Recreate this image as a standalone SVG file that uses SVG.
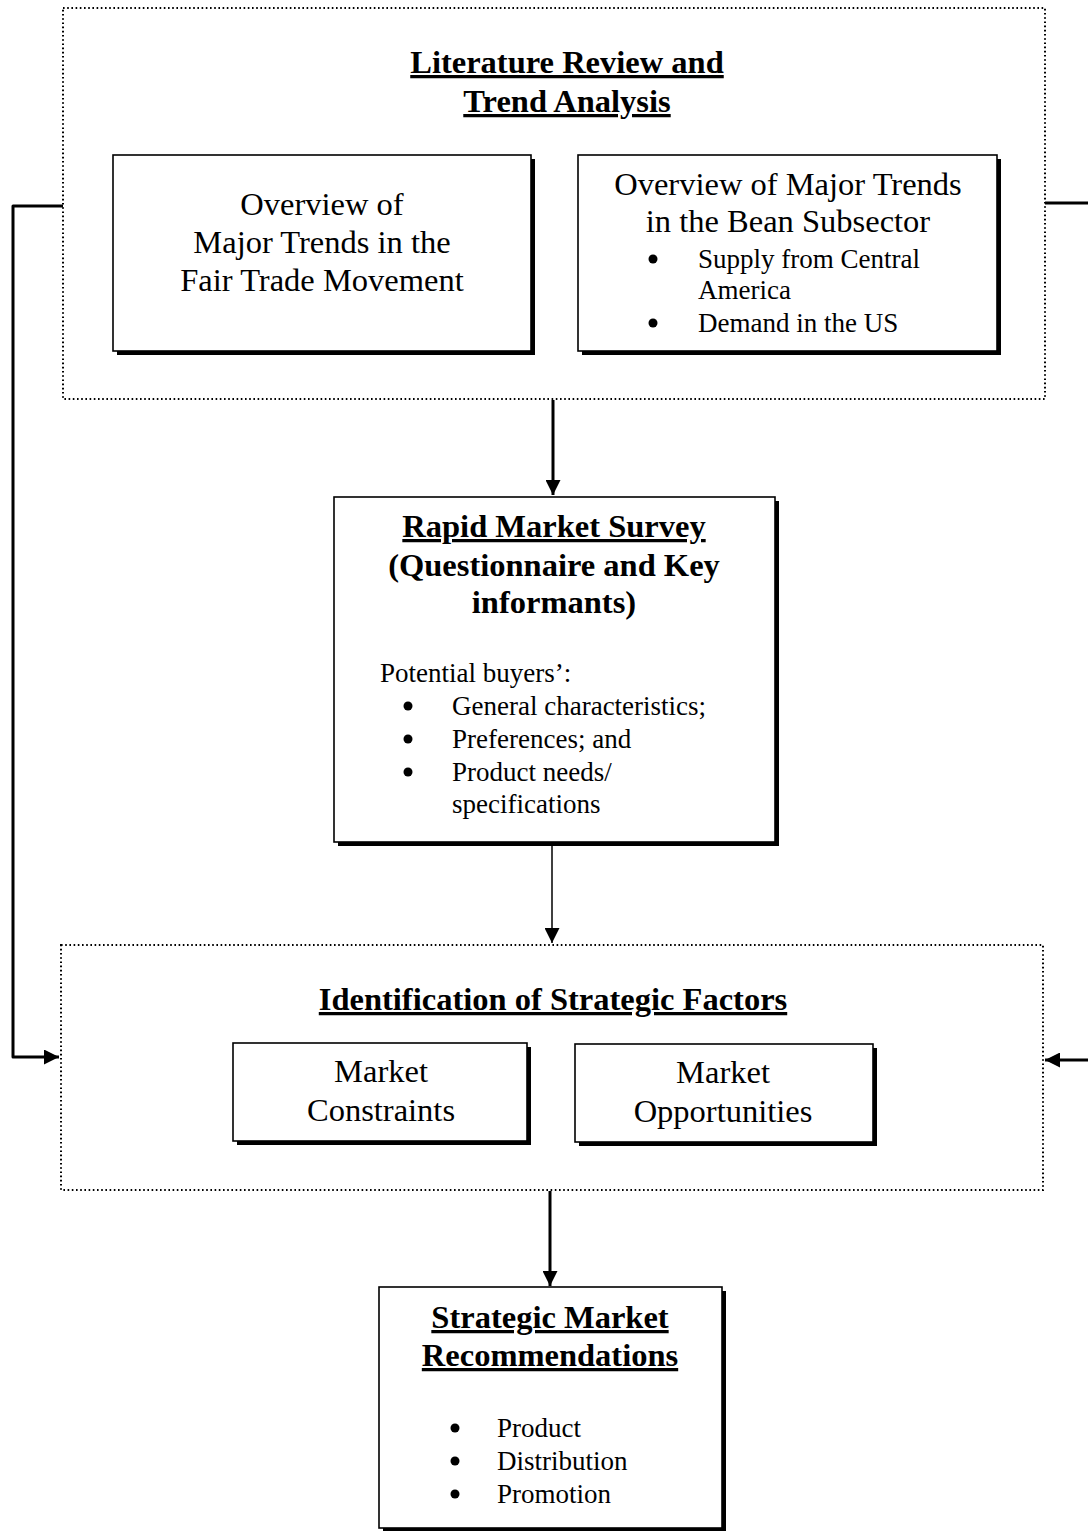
<svg xmlns="http://www.w3.org/2000/svg" width="1088" height="1531" viewBox="0 0 1088 1531">
  <style>
    text { font-family: "Liberation Serif", "Times New Roman", serif; fill: #000; }
    .h { font-weight: bold; font-size: 32.5px; text-anchor: middle; text-decoration: underline; }
    .hb { font-weight: bold; font-size: 32.5px; text-anchor: middle; }
    .t { font-size: 32.5px; text-anchor: middle; }
    .s { font-size: 27px; }
    .dot { fill: #000; }
    .frame { fill: none; stroke: #000; stroke-width: 2; stroke-dasharray: 1.6 2.6; }
    .shadow { fill: #000; }
    .box { fill: #fff; stroke: #000; stroke-width: 1.6; }
    .conn { fill: none; stroke: #000; stroke-width: 3; stroke-linejoin: round; }
  </style>
  <defs>
    <marker id="arrow" viewBox="0 0 10 10" refX="10" refY="5" markerWidth="5" markerHeight="5" markerUnits="strokeWidth" orient="auto">
      <path d="M0,0 L10,5 L0,10 z" fill="#000"/>
    </marker>
    <marker id="arrowSmall" viewBox="0 0 10 10" refX="10" refY="5" markerWidth="10" markerHeight="10" markerUnits="strokeWidth" orient="auto">
      <path d="M0,0 L10,5 L0,10 z" fill="#000"/>
    </marker>
  </defs>
  <rect width="1088" height="1531" fill="#fff"/>

  <!-- connectors -->
  <g id="connectors">
    <path class="conn" d="M63,206 H13 V1057 H59" marker-end="url(#arrow)"/>
    <path class="conn" d="M1045,203 H1088"/>
    <path class="conn" d="M1088,1060 H1045" marker-end="url(#arrow)"/>
    <path class="conn" d="M553,400 V495" marker-end="url(#arrow)"/>
    <path d="M552,844 V943" fill="none" stroke="#000" stroke-width="1.5" marker-end="url(#arrowSmall)"/>
    <path class="conn" d="M550,1191 V1286" marker-end="url(#arrow)"/>
  </g>

  <!-- literature review frame -->
  <g id="literature-review">
    <rect class="frame" x="63" y="8" width="982" height="391"/>
    <text class="h" x="567" y="73">Literature Review and</text>
    <text class="h" x="567" y="112">Trend Analysis</text>
  </g>

  <g id="fair-trade-trends">
    <rect class="shadow" x="117" y="159" width="418" height="196"/>
    <rect class="box" x="113" y="155" width="418" height="196"/>
    <text class="t" x="322" y="215">Overview of</text>
    <text class="t" x="322" y="253">Major Trends in the</text>
    <text class="t" x="322" y="291">Fair Trade Movement</text>
  </g>

  <g id="bean-subsector-trends">
    <rect class="shadow" x="582" y="159" width="419" height="196"/>
    <rect class="box" x="578" y="155" width="419" height="196"/>
    <text class="t" x="788" y="195">Overview of Major Trends</text>
    <text class="t" x="788" y="232">in the Bean Subsector</text>
    <circle class="dot" cx="653" cy="259" r="4.5"/>
    <text class="s" x="698" y="268">Supply from Central</text>
    <text class="s" x="698" y="299">America</text>
    <circle class="dot" cx="653" cy="323" r="4.5"/>
    <text class="s" x="698" y="332">Demand in the US</text>
  </g>

  <!-- survey -->
  <g id="rapid-market-survey">
    <rect class="shadow" x="338" y="501" width="441" height="345"/>
    <rect class="box" x="334" y="497" width="441" height="345"/>
    <text class="h" x="554" y="537">Rapid Market Survey</text>
    <text class="hb" x="554" y="576">(Questionnaire and Key</text>
    <text class="hb" x="554" y="613">informants)</text>
    <text class="s" x="380" y="682">Potential buyers’:</text>
    <circle class="dot" cx="408" cy="706" r="4.5"/>
    <text class="s" x="452" y="715">General characteristics;</text>
    <circle class="dot" cx="408" cy="739" r="4.5"/>
    <text class="s" x="452" y="748">Preferences; and</text>
    <circle class="dot" cx="408" cy="772" r="4.5"/>
    <text class="s" x="452" y="781">Product needs/</text>
    <text class="s" x="452" y="813">specifications</text>
  </g>

  <!-- strategic factors frame -->
  <g id="strategic-factors">
    <rect class="frame" x="61" y="945" width="982" height="245"/>
    <text class="h" x="553" y="1010">Identification of Strategic Factors</text>
  </g>

  <g id="market-constraints">
    <rect class="shadow" x="237" y="1047" width="294" height="98"/>
    <rect class="box" x="233" y="1043" width="294" height="98"/>
    <text class="t" x="381" y="1082">Market</text>
    <text class="t" x="381" y="1121">Constraints</text>
  </g>

  <g id="market-opportunities">
    <rect class="shadow" x="579" y="1048" width="298" height="98"/>
    <rect class="box" x="575" y="1044" width="298" height="98"/>
    <text class="t" x="723" y="1083">Market</text>
    <text class="t" x="723" y="1122">Opportunities</text>
  </g>

  <!-- recommendations -->
  <g id="recommendations">
    <rect class="shadow" x="383" y="1291" width="343" height="245"/>
    <rect class="box" x="379" y="1287" width="343" height="241"/>
    <text class="h" x="550" y="1328">Strategic Market</text>
    <text class="h" x="550" y="1366">Recommendations</text>
    <circle class="dot" cx="455" cy="1428" r="4.5"/>
    <text class="s" x="497" y="1437">Product</text>
    <circle class="dot" cx="455" cy="1461" r="4.5"/>
    <text class="s" x="497" y="1470">Distribution</text>
    <circle class="dot" cx="455" cy="1494" r="4.5"/>
    <text class="s" x="497" y="1503">Promotion</text>
  </g>
</svg>
